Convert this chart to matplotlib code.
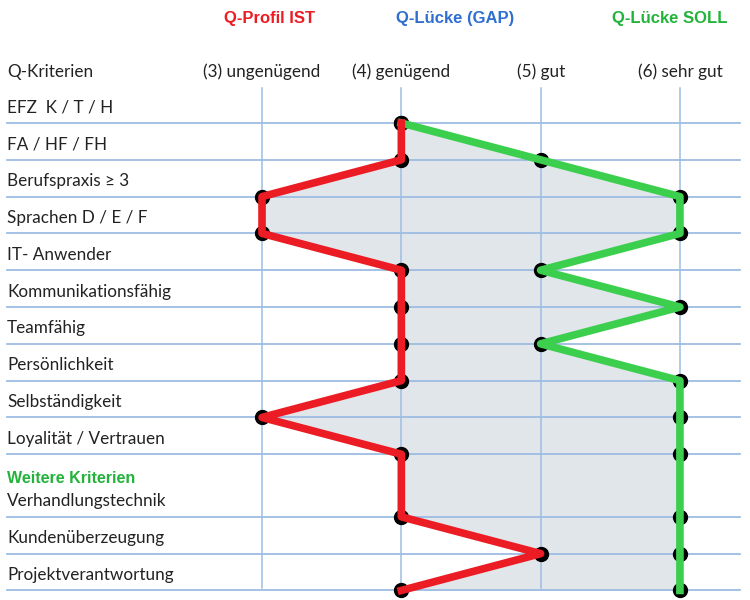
import matplotlib.pyplot as plt

# Daten
kriterien = ['EFZ  K / T / H', 'FA / HF / FH', 'Berufspraxis ≥ 3', 'Sprachen D / E / F',
             'IT- Anwender', 'Kommunikationsfähig', 'Teamfähig', 'Persönlichkeit',
             'Selbständigkeit', 'Loyalität / Vertrauen', 'Verhandlungstechnik',
             'Kundenüberzeugung', 'Projektverantwortung']
# Zeilenposition (Lücke nach Zeile 10 für "Weitere Kriterien")
zeilen = [0, 1, 2, 3, 4, 5, 6, 7, 8, 9, 10.7, 11.7, 12.7]
ist_werte = [4, 4, 3, 3, 4, 4, 4, 4, 3, 4, 4, 5, 4]
soll_werte = [4, 5, 6, 6, 5, 6, 5, 6, 6, 6, 6, 6, 6]
skala_werte = [3, 4, 5, 6]
skala_labels = ['(3) ungenügend', '(4) genügend', '(5) gut', '(6) sehr gut']

ROT = '#ec1c24'
GRUEN = '#3ccf4e'
BLAU = '#2f6fd0'
LINIE = '#9dbde3'

fig = plt.figure(figsize=(7.5, 6), dpi=100)
ax = fig.add_axes([0, 0, 1, 1])
ax.set_xlim(1.119, 6.503)
ax.set_ylim(12.96, -3.342)
ax.axis('off')

schrift = ['Lato', 'DejaVu Sans']

# Gitter
for y in zeilen:
    ax.axhline(y, xmin=7 / 750, xmax=740 / 750, color=LINIE, lw=1.3, zorder=2)
for v in skala_werte:
    ax.axvline(v, ymin=0.02, ymax=0.853, color=LINIE, lw=1.1, zorder=2)

# Lücke (GAP)
ax.fill_betweenx(zeilen, ist_werte, soll_werte, color='#e1e6eb', lw=0, zorder=1)

# Punkte und Linien
ax.plot(ist_werte, zeilen, 'o', color='black', ms=10, zorder=3)
ax.plot(soll_werte, zeilen, 'o', color='black', ms=10, zorder=3)
ax.plot(soll_werte, zeilen, color=GRUEN, lw=5.5, solid_joinstyle='round', zorder=4)
ax.plot(ist_werte, zeilen, color=ROT, lw=5.5, solid_joinstyle='round', zorder=5)

# Beschriftungen
trans = ax.get_yaxis_transform()
for y, txt in zip(zeilen, kriterien):
    ax.text(0.0093, y - 0.42, txt, transform=trans, ha='left', va='center',
            fontsize=12.3, family=schrift, color='#222222')
ax.text(0.0093, 10.7 - 1.03, 'Weitere Kriterien', transform=trans, ha='left',
        va='center', fontsize=11.5, fontweight='bold', family='Liberation Sans',
        color='#22b33a')

ax.text(0.0093, -1.39, 'Q-Kriterien', transform=trans, ha='left', va='center',
        fontsize=12.3, family=schrift, color='#222222')
for v, txt in zip(skala_werte, skala_labels):
    ax.text(v, -1.39, txt, ha='center', va='center', fontsize=12.3,
            family=schrift, color='#222222')

for x, txt, c in [(0.36, 'Q-Profil IST', ROT), (0.607, 'Q-Lücke (GAP)', BLAU),
                  (0.893, 'Q-Lücke SOLL', '#22b33a')]:
    ax.text(x, -2.85, txt, transform=trans, ha='center', va='center',
            fontsize=12, fontweight='bold', family='Liberation Sans', color=c)

fig.savefig('out.png', dpi=100, facecolor='white')
